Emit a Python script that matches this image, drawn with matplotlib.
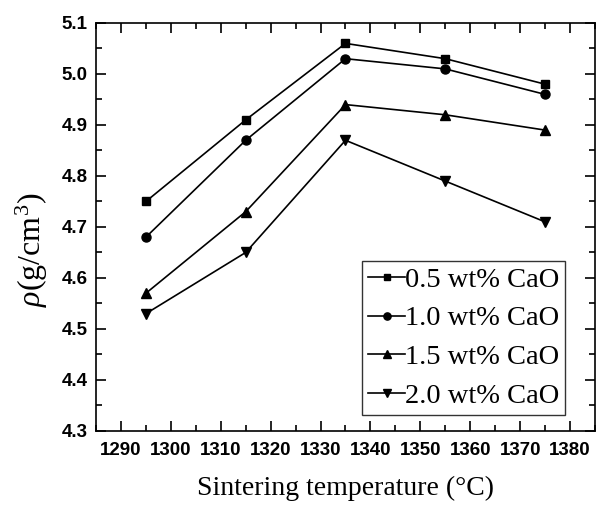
import matplotlib.pyplot as plt
from matplotlib.ticker import MultipleLocator

plt.rcParams['mathtext.fontset'] = 'custom'
plt.rcParams['mathtext.rm'] = 'Liberation Serif'
plt.rcParams['mathtext.it'] = 'Liberation Serif:italic'

# sintering temperatures (C)
temps = [1295, 1315, 1335, 1355, 1375]

# density (g/cm3) for each CaO content
rho_05 = [4.75, 4.91, 5.06, 5.03, 4.98]
rho_10 = [4.68, 4.87, 5.03, 5.01, 4.96]
rho_15 = [4.57, 4.73, 4.94, 4.92, 4.89]
rho_20 = [4.53, 4.65, 4.87, 4.79, 4.71]

labels = ['0.5 wt% CaO', '1.0 wt% CaO', '1.5 wt% CaO', '2.0 wt% CaO']
markers = ['s', 'o', '^', 'v']
sizes = [6, 6.5, 7, 7]

xticks = [1290, 1300, 1310, 1320, 1330, 1340, 1350, 1360, 1370, 1380]
yticks = [4.3, 4.4, 4.5, 4.6, 4.7, 4.8, 4.9, 5.0, 5.1]

tick_font = dict(fontfamily='Liberation Sans', fontweight='bold', fontsize=13.5)

fig = plt.figure(figsize=(5.98, 5.11), dpi=100)
ax = fig.add_axes([0.1605, 0.1566, 0.8345, 0.7984])

for y, lab, m, ms in zip([rho_05, rho_10, rho_15, rho_20], labels, markers, sizes):
    ax.plot(temps, y, color='black', lw=1.2, marker=m, markersize=ms, label=lab)

ax.set_xlim(1285, 1385)
ax.set_ylim(4.3, 5.1)
ax.set_xticks(xticks)
ax.set_xticklabels([str(v) for v in xticks], **tick_font)
ax.set_yticks(yticks)
ax.set_yticklabels(['%.1f' % v for v in yticks], **tick_font)
ax.xaxis.set_minor_locator(MultipleLocator(5))
ax.yaxis.set_minor_locator(MultipleLocator(0.05))
ax.tick_params(which='both', direction='in', top=True, right=True, width=1.2)
ax.tick_params(which='major', length=7)
ax.tick_params(which='minor', length=4)
ax.tick_params(axis='x', which='major', pad=8)
ax.tick_params(axis='y', which='major', pad=6)
for s in ax.spines.values():
    s.set_linewidth(1.2)

ax.set_xlabel('Sintering temperature (\u00b0C)', fontfamily='Liberation Serif',
              fontsize=20, labelpad=12)
ax.set_ylabel(r'$\it{\rho}$(g/cm$^3$)', fontfamily='Liberation Serif', fontsize=23)
ax.yaxis.set_label_coords(-0.092, 0.444)

leg = ax.legend(loc='lower right', bbox_to_anchor=(0.94, 0.04),
                prop={'family': 'Liberation Serif', 'size': 20.5},
                frameon=True, fancybox=False, edgecolor='black',
                handlelength=1.3, handletextpad=0.0, labelspacing=0.45,
                borderpad=0.2, borderaxespad=0.0, markerscale=0.8)
leg.get_frame().set_linewidth(1.0)

fig.savefig('out.png', dpi=100)
